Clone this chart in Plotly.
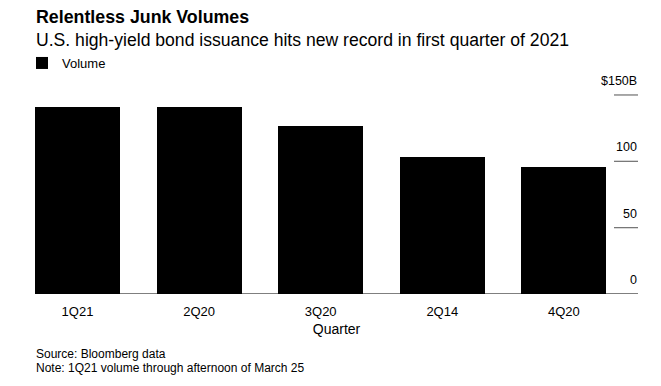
import plotly.graph_objects as go

quarters = ["1Q21", "2Q20", "3Q20", "2Q14", "4Q20"]
volumes = [140.8, 140.6, 126.7, 103.6, 96.0]
y_ticks = [0, 50, 100, 150]
y_tick_labels = ["0", "50", "100", "$150B"]

OFF = 8  # browser body margin
W, H = 661, 386
# target pixel geometry (in window coordinates)
PL, PR, PT, PB = 35, 638, 75, 294.3
ML = PL - OFF
MR = W - (PR - OFF)
MT = PT - OFF
MB = H - (PB - OFF)
plot_h = PB - PT
plot_w = PR - PL
px_per_unit = (294.3 - 95) / 150
y_top = plot_h / px_per_unit

FONT = "Liberation Sans, Arial, sans-serif"

def py(p):
    return (PB - p) / plot_h

def pxx(p):
    return (p - PL) / plot_w

x_idx = list(range(len(quarters)))
cat_px = 121.6
bar_w = 85 / cat_px
x0 = -bar_w / 2
x1 = x0 + plot_w / cat_px

fig = go.Figure()
fig.add_trace(go.Bar(
    x=x_idx, y=volumes, name="Volume", width=bar_w,
    marker=dict(color="#000000", line=dict(width=0)),
    showlegend=True,
))

shapes = []
annotations = []
tick_len = 24 / plot_w
for v, lab in zip(y_ticks, y_tick_labels):
    shapes.append(dict(type="line", xref="x domain", yref="y", x0=1 - tick_len if v else 0, x1=1,
                       y0=v, y1=v, line=dict(color="#6e6e6e" if v else "#000000", width=1.2)))
    annotations.append(dict(xref="x domain", yref="y", x=1, y=v, xanchor="right", yanchor="bottom",
                            yshift=5, xshift=1, text=lab, showarrow=False,
                            font=dict(family=FONT, size=12.5, color="#000")))

annotations += [
    dict(xref="paper", yref="paper", x=pxx(34), y=py(17), xanchor="left", yanchor="middle",
         text="<b>Relentless Junk Volumes</b>", showarrow=False,
         font=dict(family=FONT, size=17.8, color="#000")),
    dict(xref="paper", yref="paper", x=pxx(34), y=py(40), xanchor="left", yanchor="middle",
         text="U.S. high-yield bond issuance hits new record in first quarter of 2021", showarrow=False,
         font=dict(family=FONT, size=17.6, color="#000")),
    dict(xref="paper", yref="paper", x=pxx(34), y=py(354), xanchor="left", yanchor="middle",
         text="Source: Bloomberg data", showarrow=False,
         font=dict(family=FONT, size=12, color="#000")),
    dict(xref="paper", yref="paper", x=pxx(34), y=py(368), xanchor="left", yanchor="middle",
         text="Note: 1Q21 volume through afternoon of March 25", showarrow=False,
         font=dict(family=FONT, size=12, color="#000")),
]

fig.update_layout(
    width=W, height=H,
    margin=dict(l=ML, r=MR, t=MT, b=MB),
    paper_bgcolor="white", plot_bgcolor="white",
    font=dict(family=FONT, size=13, color="#000"),
    shapes=shapes, annotations=annotations,
    showlegend=True,
    legend=dict(orientation="h", x=pxx(22), y=py(63), xanchor="left", yanchor="middle",
                font=dict(family=FONT, size=13, color="#000"), bgcolor="rgba(0,0,0,0)",
                itemwidth=30, traceorder="normal"),
    bargap=0,
)
fig.update_xaxes(
    tickmode="array", tickvals=x_idx, ticktext=quarters, range=[x0, x1],
    showgrid=False, showline=False, zeroline=False, ticks="",
    ticklabelstandoff=8,
    tickfont=dict(family=FONT, size=13, color="#000"),
    title=dict(text="Quarter", font=dict(family=FONT, size=14, color="#000"), standoff=6),
)
fig.update_yaxes(
    range=[0, y_top], showgrid=False, showticklabels=False, zeroline=False, showline=False,
)

fig.write_html("out.html")
